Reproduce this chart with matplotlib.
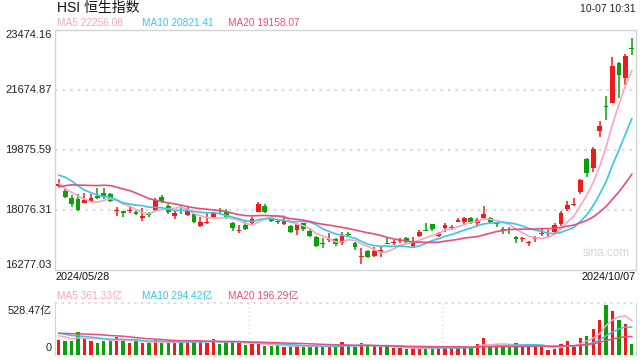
import numpy as np
import matplotlib
matplotlib.use("Agg")
import matplotlib.pyplot as plt

plt.rcParams['font.family'] = ['Liberation Sans', 'Noto Sans CJK SC', 'DejaVu Sans']

# daily OHLC, 2024/05/28 .. 2024/10/07
opens = [18794, 18653, 18443, 18404, 18293, 18353, 18494, 18593, 18554, 18034,
         18044, 18059, 18023, 17825, 17975, 18074, 18455, 18194, 17903, 18089,
         17924, 17954, 17594, 17675, 17873, 18060, 18044, 17675, 17459, 17624,
         17675, 18023, 18194, 17825, 17735, 17654, 17594, 17474, 17675, 17453,
         17273, 17070, 17174, 17204, 17075, 17345, 17075, 16664, 16853, 16703,
         16805, 17080, 17090, 17140, 17225, 17003, 17303, 17460, 17645, 17303,
         17525, 17525, 17723, 17705, 17825, 17675, 17825, 17843, 17665, 17485,
         17480, 17273, 17195, 17100, 17195, 17345, 17360, 17423, 17645, 18095,
         18215, 18605, 19604, 19325, 20444, 21180, 21293, 22475, 22025, 22910]
highs = [18995, 18704, 18524, 18554, 18575, 18545, 18725, 18725, 18575, 18175,
         18060, 18194, 18074, 18125, 18023, 18443, 18524, 18254, 18053, 18224,
         18173, 17975, 17873, 17993, 17993, 18125, 18095, 17723, 17624, 17753,
         17855, 18305, 18254, 17873, 17795, 17855, 17624, 17675, 17693, 17504,
         17294, 17225, 17375, 17225, 17405, 17423, 17123, 16925, 16874, 16973,
         16973, 17243, 17174, 17243, 17255, 17273, 17474, 17675, 17660, 17423,
         17675, 17624, 17843, 17873, 17873, 17825, 18203, 17873, 17723, 17555,
         17555, 17294, 17273, 17153, 17294, 17495, 17474, 17693, 18053, 18353,
         18425, 19004, 19630, 19973, 20744, 21503, 22673, 22505, 22745, 23243]
lows = [18773, 18425, 18173, 18060, 18280, 18340, 18395, 18395, 18323, 17905,
        17855, 17975, 17924, 17753, 17873, 18044, 18275, 17954, 17795, 17954,
        17910, 17675, 17573, 17660, 17825, 17975, 17795, 17453, 17375, 17474,
        17645, 18010, 17975, 17723, 17654, 17624, 17375, 17324, 17453, 17273,
        16955, 16925, 17123, 17003, 17024, 17255, 16874, 16445, 16625, 16673,
        16673, 17063, 17024, 17075, 17075, 16925, 17273, 17440, 17453, 17273,
        17405, 17474, 17705, 17645, 17645, 17603, 17795, 17675, 17573, 17345,
        17345, 17075, 17123, 16994, 17123, 17294, 17225, 17375, 17603, 18053,
        18203, 18545, 19073, 19205, 20273, 20774, 21280, 21443, 21824, 22724]
closes = [18845, 18473, 18254, 18074, 18374, 18443, 18425, 18494, 18353, 18064,
          17975, 18089, 17945, 17903, 17915, 18374, 18353, 18023, 17993, 18059,
          18044, 17705, 17723, 17723, 17975, 18040, 17825, 17525, 17489, 17495,
          17795, 18254, 18023, 17744, 17715, 17753, 17405, 17645, 17495, 17303,
          17003, 17050, 17204, 17045, 17303, 17320, 16955, 16685, 16655, 16844,
          16874, 17070, 17105, 17155, 17123, 17075, 17405, 17450, 17504, 17393,
          17624, 17564, 17774, 17825, 17723, 17774, 17954, 17705, 17650, 17470,
          17465, 17204, 17210, 17110, 17210, 17375, 17390, 17624, 17975, 18224,
          18230, 18974, 19175, 19904, 20603, 21160, 22403, 22124, 22694, 22895]
# turnover, 亿
volumes = [158, 151, 151, 247, 176, 151, 130, 151, 151, 194,
           151, 123, 151, 123, 130, 158, 123, 130, 123, 141,
           158, 151, 141, 130, 169, 116, 141, 141, 130, 106,
           116, 123, 95, 95, 106, 81, 95, 95, 88, 88,
           95, 88, 88, 95, 141, 95, 81, 130, 95, 95,
           81, 95, 70, 70, 60, 70, 81, 70, 70, 81,
           81, 81, 81, 81, 81, 116, 176, 81, 116, 95,
           95, 123, 95, 95, 95, 81, 53, 60, 116, 151,
           88, 176, 201, 275, 370, 528, 465, 370, 328, 116]
# sessions before the first visible day (needed for the moving averages)
prev_closes = [17747, 17763, 18207, 18476, 18578, 18479, 18314, 18537, 18964, 19115,
               19073, 19376, 19553, 19636, 19221, 19195, 18868, 18609, 18827]
prev_volumes = [180, 210, 260, 230, 200, 190, 240, 280, 250, 230,
                260, 300, 270, 240, 220, 210, 250, 200, 190]

y_ticks = [16277.03, 18076.31, 19875.59, 21674.87, 23474.16]
vol_max = 528.47

RED = '#ef1a1a'
GREEN = '#0c9f0c'
C_MA5 = '#f7a6c1'
C_MA10 = '#3cc6e6'
C_MA20 = '#e84d7c'
GRID = '#dcdcdc'
W, H = 640, 360


def ma(values, prev, n):
    s = np.array(prev + values, dtype=float)
    out = np.convolve(s, np.ones(n) / n, mode='valid')
    return out[len(out) - len(values):]


def px(x0, y0, x1, y1):
    return [x0 / W, 1 - y1 / H, (x1 - x0) / W, (y1 - y0) / H]


o, h, l, c = map(np.array, (opens, highs, lows, closes))
idx = np.arange(len(c))
col = np.where(c >= o, RED, GREEN)

fig = plt.figure(figsize=(6.4, 3.6), dpi=100)
ax = fig.add_axes(px(55, 30, 636, 270))
vx = fig.add_axes(px(55, 303, 636, 355))
xlim = (-0.58, 89.65)

# ---- price panel
for t in y_ticks[1:-1]:
    ax.axhline(t, color=GRID, lw=1.6, ls=(0, (1.2, 2.2)), zorder=0)
ax.vlines(idx, l, h, colors=col, lw=1.1, zorder=2)
body = np.maximum(np.abs(c - o), 28)
ax.bar(idx, body, bottom=np.minimum(o, c), width=0.74, color=col, lw=0, zorder=3)
ax.plot(idx, ma(closes, prev_closes, 5), color=C_MA5, lw=1.2, zorder=4)
ax.plot(idx, ma(closes, prev_closes, 10), color=C_MA10, lw=1.2, zorder=4)
ax.plot(idx, ma(closes, prev_closes, 20), color=C_MA20, lw=1.2, zorder=4)
ax.set_xlim(*xlim)
ax.set_ylim(y_ticks[0], y_ticks[-1])
ax.set_xticks([])
ax.set_yticks([])
for s in ax.spines.values():
    s.set_color('#d4d4d4')
    s.set_linewidth(1)
ax.text(0.99, 0.07, 'sina.com', transform=ax.transAxes, ha='right', va='center',
        fontsize=8.5, color='#d6d6d6')

for k, t in enumerate(y_ticks):
    va = 'bottom' if k == 0 else ('top' if k == len(y_ticks) - 1 else 'center')
    ax.text(-0.006, (t - y_ticks[0]) / (y_ticks[-1] - y_ticks[0]), f'{t:.2f}',
            transform=ax.transAxes, ha='right', va=va, fontsize=8, color='#222222')

# ---- volume panel
vol = np.array(volumes)
vx.bar(idx, vol, width=0.52, color=col, lw=0, zorder=2)
vx.plot(idx, ma(volumes, prev_volumes, 5), color=C_MA5, lw=1.1, zorder=3)
vx.plot(idx, ma(volumes, prev_volumes, 10), color=C_MA10, lw=1.1, zorder=3)
vx.plot(idx, ma(volumes, prev_volumes, 20), color=C_MA20, lw=1.1, zorder=3)
vx.set_xlim(*xlim)
vx.set_ylim(0, vol_max * 1.035)
vx.set_xticks([])
vx.set_yticks([])
for side in ('top', 'bottom'):
    vx.spines[side].set_visible(False)
for side in ('left', 'right'):
    vx.spines[side].set_color('#d4d4d4')
vx.axhline(vol_max * 1.035, color=GRID, lw=1.4, ls=(0, (1.2, 2.2)), zorder=0, clip_on=False)
for f in (1 / 3, 2 / 3):
    vx.axvline(xlim[0] + f * (xlim[1] - xlim[0]), color=GRID, lw=0.9,
               ls=(0, (1.2, 2.2)), zorder=0)

# ---- texts
def t(x, y, s, **kw):
    kw.setdefault('fontsize', 7.3)
    kw.setdefault('color', '#222222')
    fig.text(x / W, 1 - y / H, s, va='center', **kw)

t(57, 8, 'HSI 恒生指数', fontsize=10, color='#111111')
t(636, 9, '10-07 10:31', ha='right', fontsize=7.5)
t(57, 23, 'MA5 22256.08', color=C_MA5)
t(142, 23, 'MA10 20821.41', color=C_MA10)
t(228, 23, 'MA20 19158.07', color=C_MA20)
t(55, 277, '2024/05/28', fontsize=7.8, color='#111111')
t(636, 277, '2024/10/07', ha='right', fontsize=7.8, color='#111111')
t(57, 296, 'MA5 361.33亿', color=C_MA5)
t(142, 296, 'MA10 294.42亿', color=C_MA10)
t(228, 296, 'MA20 196.29亿', color=C_MA20)
t(52, 311, '528.47亿', ha='right', fontsize=7.8)
t(52, 348, '0', ha='right', fontsize=7.8)

fig.savefig('out.png', dpi=100)
